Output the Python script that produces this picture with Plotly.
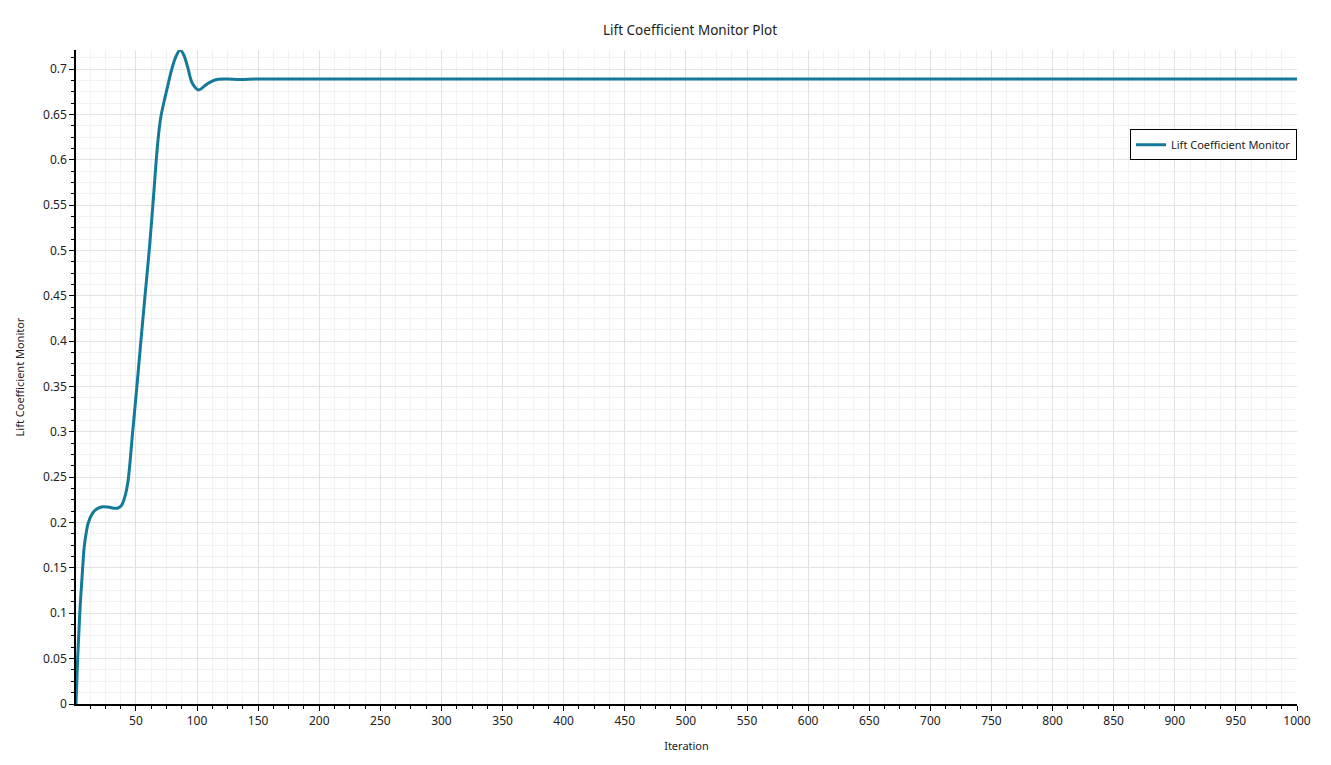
import plotly.graph_objects as go

iterations = [1, 2.3, 4, 6.4, 7.7, 9.5, 11, 14.6, 18, 22.8, 28, 33, 36, 38.3, 41.3, 43.5, 47.3, 50.8,
              54.1, 57.4, 60.9, 63.9, 66.5, 68.5, 70.4, 73, 75.3, 79.2, 82.5, 86.2, 89, 92.2, 96.3,
              101.2, 107.2, 112, 117.3, 125, 135, 150, 200, 300, 400, 500, 600, 700, 800, 900, 1000]
lift = [0.0, 0.0485, 0.098, 0.149, 0.173, 0.19, 0.1995, 0.2105, 0.215, 0.2175, 0.217, 0.2157, 0.2165,
        0.219, 0.23, 0.245, 0.299, 0.35, 0.4, 0.449, 0.5, 0.55, 0.597, 0.627, 0.647, 0.664, 0.677,
        0.699, 0.713, 0.721, 0.716, 0.703, 0.684, 0.677, 0.6825, 0.6865, 0.6887, 0.689, 0.6885,
        0.689, 0.689, 0.689, 0.689, 0.689, 0.689, 0.689, 0.689, 0.689, 0.689]

series_name = "Lift Coefficient Monitor"
title_text = "Lift Coefficient Monitor Plot"
x_title = "Iteration"
y_title = "Lift Coefficient Monitor"

FONT = "Noto Sans"
fig = go.Figure()
fig.add_trace(go.Scatter(
    x=iterations, y=lift, mode="lines", name=series_name,
    line=dict(color="rgb(20,122,153)", width=3, shape="spline", smoothing=1.0),
))

grid_major = "#e2e2e2"
grid_minor = "#f2f2f2"

fig.update_layout(
    width=1323, height=757,
    paper_bgcolor="white", plot_bgcolor="white",
    margin=dict(l=68, r=34, t=42, b=61),
    font=dict(family=FONT, size=11, color="#222"),
    title=dict(text=title_text, x=0.5155, xanchor="center", y=0.971, yanchor="middle",
               font=dict(family=FONT, size=13.5, color="#222")),
    showlegend=True,
    legend=dict(x=1.0, xanchor="right", y=0.879, yanchor="top",
                bordercolor="black", borderwidth=1, bgcolor="white",
                font=dict(family=FONT, size=11, color="#222"),
                itemwidth=30, tracegroupgap=0),
    xaxis=dict(
        range=[1, 1000], tick0=0, dtick=50, showgrid=True, gridcolor=grid_major, gridwidth=1,
        zeroline=False, showline=True, linecolor="black", linewidth=1.5,
        ticks="outside", ticklen=5, tickcolor="black", tickfont=dict(size=12, color="#222"),
        minor=dict(dtick=12.5, tick0=0, showgrid=True, gridcolor=grid_minor, ticks="outside",
                   ticklen=3, tickcolor="black"),
        title=dict(text=x_title, font=dict(size=11, color="#222"), standoff=14),
    ),
    yaxis=dict(
        range=[0, 0.721], tick0=0, dtick=0.05, showgrid=True, gridcolor=grid_major, gridwidth=1,
        zeroline=False, showline=True, linecolor="black", linewidth=1.5,
        ticks="outside", ticklen=5, tickcolor="black", tickfont=dict(size=12, color="#222"),
        minor=dict(dtick=0.0125, tick0=0, showgrid=True, gridcolor=grid_minor, ticks="outside",
                   ticklen=3, tickcolor="black"),
        title=dict(text=y_title, font=dict(size=11, color="#222"), standoff=16),
    ),
)

fig.write_html("out.html")
